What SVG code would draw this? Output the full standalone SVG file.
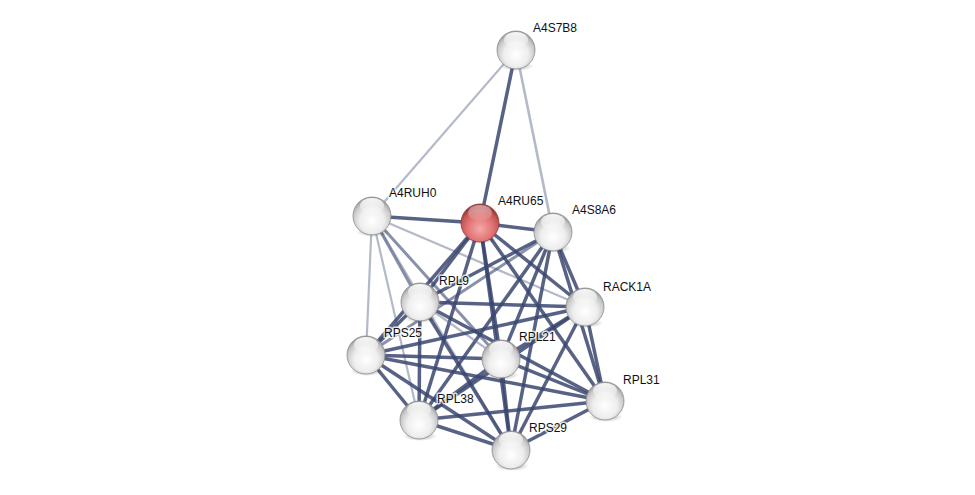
<svg xmlns="http://www.w3.org/2000/svg" width="975" height="495" viewBox="0 0 975 495">
<defs>
<radialGradient id="gw" cx="0.5" cy="0.62" r="0.58">
<stop offset="0" stop-color="#ffffff"/>
<stop offset="0.55" stop-color="#eeeeee"/>
<stop offset="0.85" stop-color="#c8c8c8"/>
<stop offset="1" stop-color="#a0a0a0"/>
</radialGradient>
<radialGradient id="gr" cx="0.5" cy="0.65" r="0.58">
<stop offset="0" stop-color="#f6a8a8"/>
<stop offset="0.55" stop-color="#e27676"/>
<stop offset="0.85" stop-color="#c85656"/>
<stop offset="1" stop-color="#9c3a3a"/>
</radialGradient>
<linearGradient id="hl" x1="0" y1="0" x2="0" y2="1">
<stop offset="0" stop-color="#ffffff" stop-opacity="0.95"/>
<stop offset="1" stop-color="#ffffff" stop-opacity="0.1"/>
</linearGradient>
<radialGradient id="sh" cx="0.5" cy="0.5" r="0.5">
<stop offset="0" stop-color="#000" stop-opacity="0.35"/>
<stop offset="1" stop-color="#000" stop-opacity="0"/>
</radialGradient>
</defs>
<style>
.e{stroke:#3a4670;stroke-width:3.5;stroke-opacity:0.85;fill:none}
.m{stroke:#3a4670;stroke-width:3;stroke-opacity:0.6;fill:none}
.l{stroke:#6a7496;stroke-width:2.2;stroke-opacity:0.5;fill:none}
.ring{stroke:#8a8a8a;stroke-width:0.8}
.lab{font-family:"Liberation Sans",Arial,sans-serif;font-size:12px;fill:#111;paint-order:stroke;stroke:#fff;stroke-width:3;stroke-opacity:0.8;stroke-linejoin:round}
</style>
<rect width="975" height="495" fill="#ffffff"/>
<g id="connectors">
<line class="l" x1="516" y1="50" x2="372" y2="216"/>
<line class="e" x1="516" y1="50" x2="480" y2="223"/>
<line class="l" x1="516" y1="50" x2="553" y2="232" style="stroke-width:2.6"/>
<line class="e" x1="372" y1="216" x2="480" y2="223"/>
<line class="m" x1="372" y1="216" x2="420" y2="302"/>
<line class="l" x1="372" y1="216" x2="366" y2="355"/>
<line class="l" x1="372" y1="216" x2="419" y2="420"/>
<line class="l" x1="372" y1="216" x2="511" y2="450"/>
<line class="m" x1="372" y1="216" x2="501" y2="359"/>
<line class="l" x1="372" y1="216" x2="585" y2="307"/>
<line class="e" x1="480" y1="223" x2="553" y2="232"/>
<line class="e" x1="480" y1="223" x2="420" y2="302"/>
<line class="e" x1="480" y1="223" x2="585" y2="307"/>
<line class="e" x1="480" y1="223" x2="366" y2="355"/>
<line class="e" x1="480" y1="223" x2="501" y2="359"/>
<line class="e" x1="480" y1="223" x2="605" y2="401"/>
<line class="e" x1="480" y1="223" x2="419" y2="420"/>
<line class="e" x1="480" y1="223" x2="511" y2="450"/>
<line class="e" x1="553" y1="232" x2="420" y2="302"/>
<line class="e" x1="553" y1="232" x2="585" y2="307"/>
<line class="m" x1="553" y1="232" x2="366" y2="355"/>
<line class="e" x1="553" y1="232" x2="501" y2="359"/>
<line class="e" x1="553" y1="232" x2="605" y2="401"/>
<line class="e" x1="553" y1="232" x2="419" y2="420"/>
<line class="e" x1="553" y1="232" x2="511" y2="450"/>
<line class="e" x1="420" y1="302" x2="585" y2="307"/>
<line class="e" x1="420" y1="302" x2="366" y2="355"/>
<line class="l" x1="420" y1="302" x2="501" y2="359"/>
<line class="e" x1="420" y1="302" x2="605" y2="401"/>
<line class="e" x1="420" y1="302" x2="419" y2="420"/>
<line class="e" x1="420" y1="302" x2="511" y2="450"/>
<line class="e" x1="585" y1="307" x2="366" y2="355"/>
<line class="e" x1="585" y1="307" x2="501" y2="359"/>
<line class="e" x1="585" y1="307" x2="605" y2="401"/>
<line class="e" x1="585" y1="307" x2="419" y2="420"/>
<line class="e" x1="585" y1="307" x2="511" y2="450"/>
<line class="e" x1="366" y1="355" x2="501" y2="359"/>
<line class="e" x1="366" y1="355" x2="605" y2="401"/>
<line class="e" x1="366" y1="355" x2="419" y2="420"/>
<line class="e" x1="366" y1="355" x2="511" y2="450"/>
<line class="e" x1="501" y1="359" x2="605" y2="401"/>
<line class="e" x1="501" y1="359" x2="419" y2="420"/>
<line class="e" x1="501" y1="359" x2="511" y2="450"/>
<line class="e" x1="605" y1="401" x2="419" y2="420"/>
<line class="e" x1="605" y1="401" x2="511" y2="450"/>
<line class="e" x1="419" y1="420" x2="511" y2="450"/>
</g>
<g id="node-A4S7B8"><ellipse cx="517" cy="66" rx="17" ry="5" fill="url(#sh)"/><circle class="ring" cx="516" cy="50" r="19" fill="url(#gw)"/><ellipse cx="516" cy="40" rx="12" ry="8" fill="url(#hl)"/><text class="lab" x="533" y="32">A4S7B8</text></g>
<g id="node-A4RUH0"><ellipse cx="373" cy="232" rx="17" ry="5" fill="url(#sh)"/><circle class="ring" cx="372" cy="216" r="19" fill="url(#gw)"/><ellipse cx="372" cy="206" rx="12" ry="8" fill="url(#hl)"/><text class="lab" x="389" y="197">A4RUH0</text></g>
<g id="node-A4RU65"><ellipse cx="481" cy="239" rx="17" ry="5" fill="url(#sh)"/><circle cx="480" cy="223" r="19" fill="url(#gr)" stroke="#8a3a3a" stroke-width="0.8"/><ellipse cx="480" cy="213" rx="12" ry="8" fill="url(#hl)" opacity="0.55"/><text class="lab" x="498" y="205">A4RU65</text></g>
<g id="node-A4S8A6"><ellipse cx="554" cy="248" rx="17" ry="5" fill="url(#sh)"/><circle class="ring" cx="553" cy="232" r="19" fill="url(#gw)"/><ellipse cx="553" cy="222" rx="12" ry="8" fill="url(#hl)"/><text class="lab" x="572" y="214">A4S8A6</text></g>
<g id="node-RPL9"><ellipse cx="421" cy="318" rx="17" ry="5" fill="url(#sh)"/><circle class="ring" cx="420" cy="302" r="19" fill="url(#gw)"/><ellipse cx="420" cy="292" rx="12" ry="8" fill="url(#hl)"/><text class="lab" x="439" y="285">RPL9</text></g>
<g id="node-RACK1A"><ellipse cx="586" cy="323" rx="17" ry="5" fill="url(#sh)"/><circle class="ring" cx="585" cy="307" r="19" fill="url(#gw)"/><ellipse cx="585" cy="297" rx="12" ry="8" fill="url(#hl)"/><text class="lab" x="603" y="291">RACK1A</text></g>
<g id="node-RPS25"><ellipse cx="367" cy="371" rx="17" ry="5" fill="url(#sh)"/><circle class="ring" cx="366" cy="355" r="19" fill="url(#gw)"/><ellipse cx="366" cy="345" rx="12" ry="8" fill="url(#hl)"/><text class="lab" x="384" y="337">RPS25</text></g>
<g id="node-RPL21"><ellipse cx="502" cy="375" rx="17" ry="5" fill="url(#sh)"/><circle class="ring" cx="501" cy="359" r="19" fill="url(#gw)"/><ellipse cx="501" cy="349" rx="12" ry="8" fill="url(#hl)"/><text class="lab" x="519" y="341">RPL21</text></g>
<g id="node-RPL31"><ellipse cx="606" cy="417" rx="17" ry="5" fill="url(#sh)"/><circle class="ring" cx="605" cy="401" r="19" fill="url(#gw)"/><ellipse cx="605" cy="391" rx="12" ry="8" fill="url(#hl)"/><text class="lab" x="623" y="384">RPL31</text></g>
<g id="node-RPL38"><ellipse cx="420" cy="436" rx="17" ry="5" fill="url(#sh)"/><circle class="ring" cx="419" cy="420" r="19" fill="url(#gw)"/><ellipse cx="419" cy="410" rx="12" ry="8" fill="url(#hl)"/><text class="lab" x="437" y="403">RPL38</text></g>
<g id="node-RPS29"><ellipse cx="512" cy="466" rx="17" ry="5" fill="url(#sh)"/><circle class="ring" cx="511" cy="450" r="19" fill="url(#gw)"/><ellipse cx="511" cy="440" rx="12" ry="8" fill="url(#hl)"/><text class="lab" x="529" y="432">RPS29</text></g>
</svg>
